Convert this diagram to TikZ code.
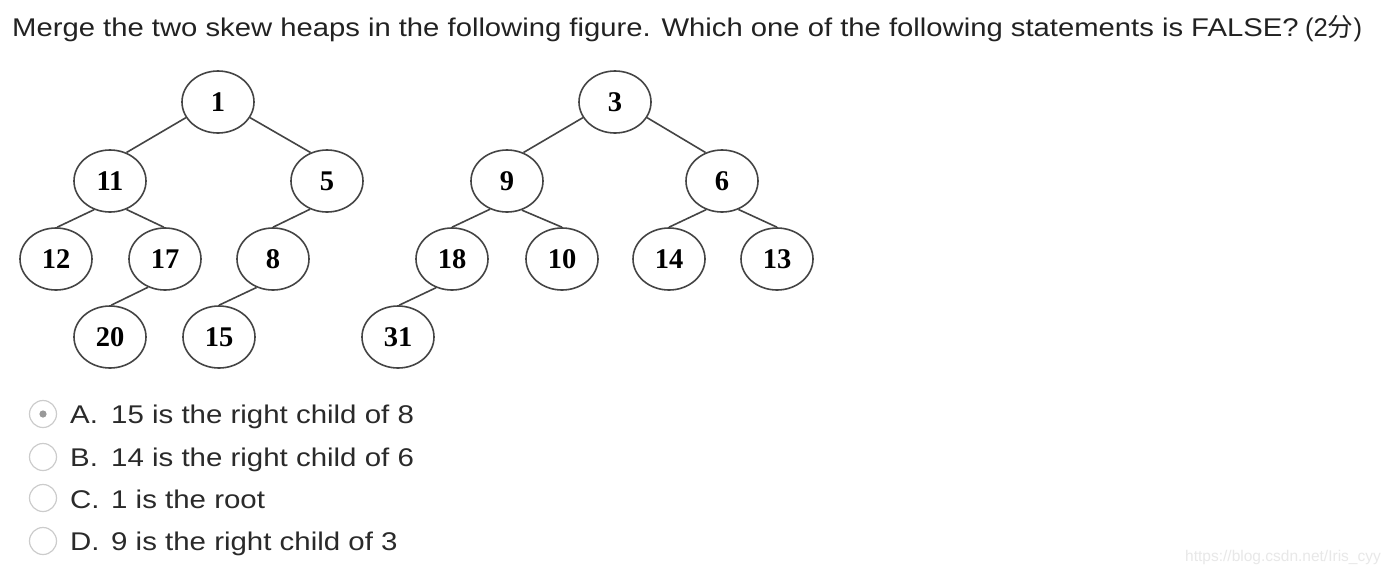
\documentclass[tikz,border=0pt]{standalone}
\usepackage{graphicx}
\usepackage{fontspec}
\setmainfont{Liberation Sans}
\newfontfamily\numfont{Liberation Serif}
\newfontfamily\cjkfont{Noto Sans CJK SC}
\usetikzlibrary{shapes.geometric}
\definecolor{txt}{HTML}{222222}
\definecolor{opt}{HTML}{2A2A2A}
\definecolor{edge}{HTML}{444444}
\newcommand\widetxt[1]{\scalebox{1.15}[1]{#1}}
\newcommand\widettl[1]{\scalebox{1.142}[1]{#1}}
\begin{document}
\begin{tikzpicture}[x=1pt,y=-1pt,
  hnode/.style={ellipse,draw=edge,line width=1.6pt,minimum width=72pt,minimum height=62pt,inner sep=0pt,
    font=\numfont\bfseries\fontsize{28.5}{30}\selectfont,text=black},
  hedge/.style={draw=edge,line width=1.6pt},
  radio/.style={circle,draw=black!20,line width=1.2pt,minimum size=27pt,inner sep=0pt,fill=white},
  title/.style={anchor=base west,inner sep=0pt,font=\fontsize{25.6}{30}\selectfont,text=txt},
  option/.style={anchor=base west,inner sep=0pt,font=\fontsize{25.6}{30}\selectfont,text=opt}]
\useasboundingbox (0,0) rectangle (1392,574);
\fill[white] (0,0) rectangle (1392,574);
% title
\node[title] (title) at (12,36) {\widettl{Merge the two skew heaps in the following figure. Which one of the following statements is FALSE?}};
\node[title] (score) at (1305,36) {(2{\cjkfont 分})};
% heap 1
\node[hnode] (n1)  at (218,102) {1};
\node[hnode] (n11) at (110,181) {11};
\node[hnode] (n5)  at (327,181) {5};
\node[hnode] (n12) at (56,259)  {12};
\node[hnode] (n17) at (165,259) {17};
\node[hnode] (n8)  at (273,259) {8};
\node[hnode] (n20) at (110,337) {20};
\node[hnode] (n15) at (219,337) {15};
% heap 2
\node[hnode] (n3)  at (615,102) {3};
\node[hnode] (n9)  at (507,181) {9};
\node[hnode] (n6)  at (722,181) {6};
\node[hnode] (n18) at (452,259) {18};
\node[hnode] (n10) at (562,259) {10};
\node[hnode] (n14) at (669,259) {14};
\node[hnode] (n13) at (777,259) {13};
\node[hnode] (n31) at (398,337) {31};
% edges
\draw[hedge] (n1.206) -- (n11.60);
\draw[hedge] (n1.334) -- (n5.120);
\draw[hedge] (n11.241) -- (n12.88);
\draw[hedge] (n11.300) -- (n17.92);
\draw[hedge] (n5.239) -- (n8.90);
\draw[hedge] (n17.239) -- (n20.88);
\draw[hedge] (n8.240) -- (n15.90);
\draw[hedge] (n3.206) -- (n9.60);
\draw[hedge] (n3.334) -- (n6.120);
\draw[hedge] (n9.239) -- (n18.90);
\draw[hedge] (n9.297) -- (n10.90);
\draw[hedge] (n6.241) -- (n14.90);
\draw[hedge] (n6.300) -- (n13.90);
\draw[hedge] (n18.241) -- (n31.88);
% options
\node[radio] (ra) at (43,414) {};
\fill[black!40] (ra.center) circle (3.6pt);
\node[radio] (rb) at (43,457) {};
\node[radio] (rc) at (43,498) {};
\node[radio] (rd) at (43,541) {};
\node[option] (la) at (70,423) {\widetxt{A.}};
\node[option] (ta) at (111,423) {\widetxt{15 is the right child of 8}};
\node[option] (lb) at (70,466) {\widetxt{B.}};
\node[option] (tb) at (111,466) {\widetxt{14 is the right child of 6}};
\node[option] (lc) at (70,508) {\widetxt{C.}};
\node[option] (tc) at (111,508) {\widetxt{1 is the root}};
\node[option] (ld) at (70,550) {\widetxt{D.}};
\node[option] (td) at (111,550) {\widetxt{9 is the right child of 3}};
% watermark
\node[anchor=base east,inner sep=0pt,font=\fontsize{15.5}{17}\selectfont,text=black!9] (wm) at (1381,561) {https://blog.csdn.net/Iris\_cyy};
\end{tikzpicture}
\end{document}
